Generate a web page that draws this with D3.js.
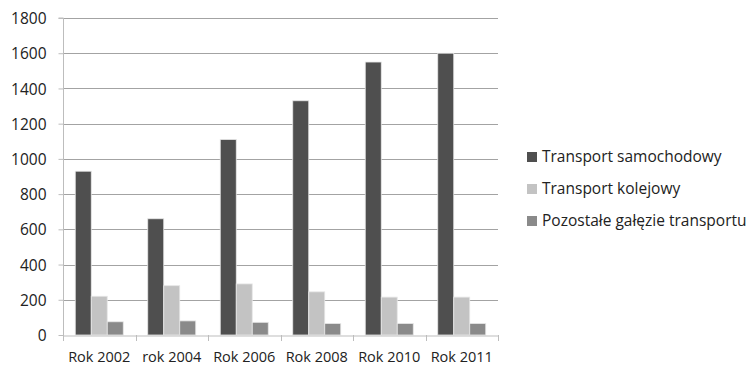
<!DOCTYPE html>
<html><head><meta charset="utf-8">
<script src="https://cdn.jsdelivr.net/npm/d3@7"></script>
<style>body{margin:0;background:#fff}svg{display:block}text{font-family:"Open Sans",sans-serif;fill:#222}</style>
</head><body><svg id="c" width="751" height="366"></svg>
<script>
const categories = ["Rok 2002","rok 2004","Rok 2006","Rok 2008","Rok 2010","Rok 2011"];
const seriesNames = ["Transport samochodowy","Transport kolejowy","Pozostałe gałęzie transportu"];
const samochodowy = [930, 660, 1110, 1330, 1550, 1600];
const kolejowy = [220, 280, 290, 245, 215, 215];
const pozostale = [75, 80, 72, 65, 65, 65];
const yTicks = [0,200,400,600,800,1000,1200,1400,1600,1800];
const colors = ["#4f4f4f","#c3c3c3","#8a8a8a"];
const series = [samochodowy, kolejowy, pozostale];

const svg = d3.select("#c");
const L=63, R=498, T=18, B=335;
const fs = "15.5px";
const x = d3.scaleBand().domain(categories).range([L,R]).paddingInner(0).paddingOuter(0);
const bw = x.bandwidth();
const barW = bw*16/72.5;
const off = (bw - 3*barW)/2;
const x1 = d3.scaleBand().domain(d3.range(3)).range([off,bw-off]).padding(0);
const y = d3.scaleLinear().domain([0,1800]).range([B,T]);

// gridlines
svg.append("g").selectAll("line").data(yTicks.filter(d=>d>0)).join("line")
  .attr("x1",L).attr("x2",R).attr("y1",d=>Math.round(y(d))+0.5).attr("y2",d=>Math.round(y(d))+0.5)
  .attr("stroke","#a3a3a3").attr("stroke-width",1);

// bars
const g = svg.append("g");
series.forEach((s,si)=>{
  g.selectAll(null).data(s).join("rect")
    .attr("x",(d,i)=>x(categories[i])+x1(si))
    .attr("y",d=>y(d))
    .attr("width",x1.bandwidth())
    .attr("height",d=>B-y(d))
    .attr("fill",colors[si])
    .attr("stroke","#e6e6e6").attr("stroke-width",0.8);
});

// y axis
const ya = svg.append("g").attr("transform",`translate(${L+0.5},0)`)
  .call(d3.axisLeft(y).tickValues(yTicks).tickFormat(d3.format("d")).tickSize(5).tickPadding(12));
ya.select(".domain").attr("stroke","#bdbdbd").attr("d",`M-5,${T}H0V${B}`);
ya.selectAll(".tick line").attr("stroke","#bdbdbd");
ya.selectAll("text").style("font-size",fs).attr("fill","#222").attr("dy","0.36em");

// x axis
const xa = svg.append("g").attr("transform",`translate(0,${B+0.5})`)
  .call(d3.axisBottom(x).tickSize(0).tickPadding(16));
xa.select(".domain").attr("stroke","#bdbdbd");
xa.selectAll(".tick text").style("font-size","14.5px").attr("fill","#222");
const bounds = [L, ...categories.map(c=>x(c)+x.bandwidth())];
svg.append("g").selectAll("line").data(bounds).join("line")
  .attr("x1",d=>Math.round(d)+0.5).attr("x2",d=>Math.round(d)+0.5)
  .attr("y1",B).attr("y2",B+6).attr("stroke","#bdbdbd");

// legend
const lg = svg.append("g").attr("transform","translate(527,157)");
seriesNames.forEach((n,i)=>{
  const r = lg.append("g").attr("transform",`translate(0,${i*32})`);
  r.append("rect").attr("x",0).attr("y",-5).attr("width",10).attr("height",10).attr("fill",colors[i]);
  r.append("text").attr("x",15).attr("y",0).attr("dy","0.35em").style("font-size",fs).text(n);
});
</script></body></html>
